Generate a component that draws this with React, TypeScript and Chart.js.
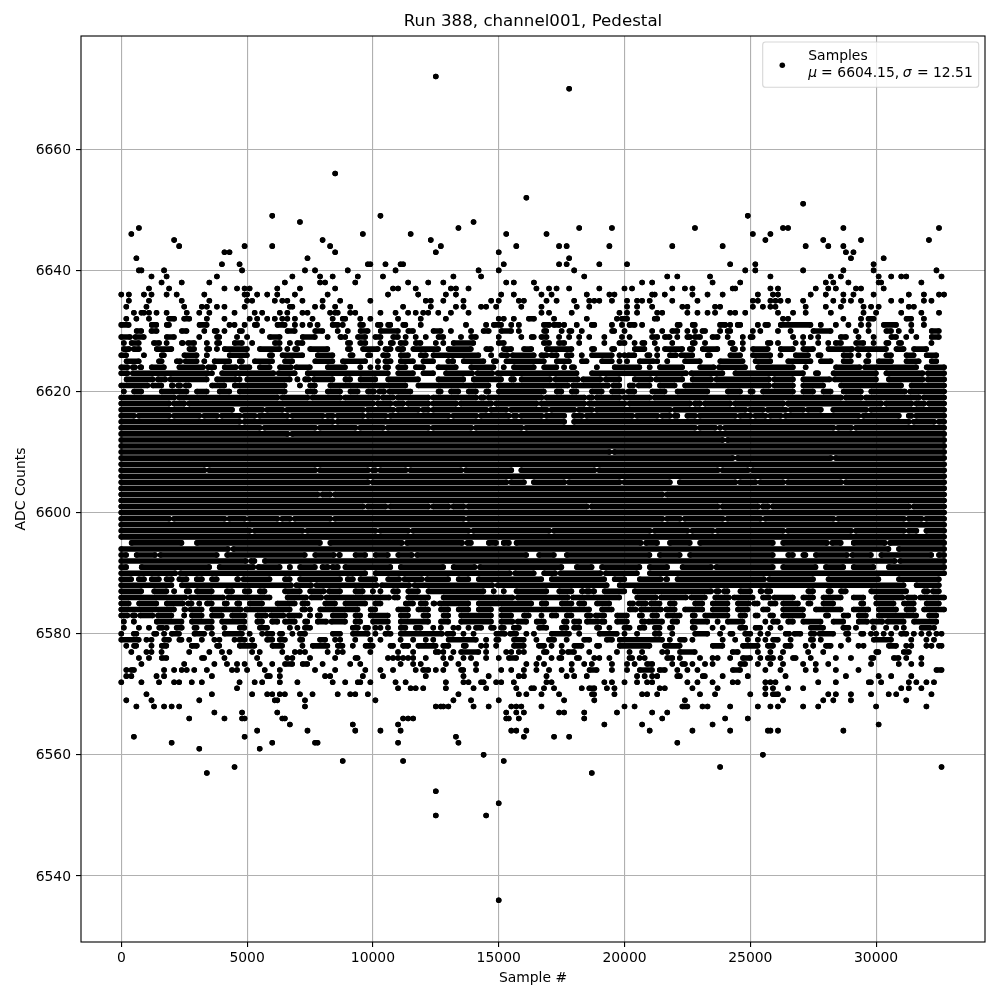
import React, { useEffect, useRef } from "react";
import { Chart, registerables } from "chart.js";

Chart.register(...registerables);

const chartTitle = "Run 388, channel001, Pedestal";
const xTitle = "Sample #";
const yTitle = "ADC Counts";
const seriesName = "Samples";
const statMean = "6604.15";
const statSigma = "12.51";

// x positions are stored in hundreds of samples, one list per ADC code.
const sampleUnit = 100;
const lastSample = 327;
// Fringe runs were read at their outer edges; a dot's centre sits about one unit inside,
// and less where two runs almost touch.
const edgeInset = 1.1;
const touchingInset = 0.6;

// In each list "n" is one isolated sample and "a-b" is a run of samples whose dots merge.
const rowsHigh: [number, string][] = [
  [6672, "125"],
  [6670, "178"],
  [6656, "85"],
  [6652, "161"],
  [6651, "271"],
  [6649, "60 103 249"],
  [6648, "71 140"],
  [6647, "7 134 182 195 228 263 265 287 325"],
  [6646, "4 96 115 153 169 251 258"],
  [6645, "21 80 123 256 279 294 321"],
  [6644, "23 49 60 83 127 157 174 177 194 219 239 272 281 287"],
  [6643, "41 43 85 125 150 288 291"],
  [6642, "6 74 178 290 303"],
  [6641, "40 47 98 99 105 111 112 152 174 177 190 201 242 252 299"],
  [6640, "7 8 17 48 73 77 90 109 142 150 180 248 252 271 287 299 324"],
  [6639, "12 18 38 68 79 84 94 104 132 143 184 217 221 234 258 282 286 301 306 310 312 326"],
  [6638, "16 24 35 65 79 81 93 114 122 128 153 156 164 207 211 235 246 280 283 289 301 302 318"],
  [6637, "11 19 41 46 49 51 62 71 85 108 110 117 131 133 138 165 170 173 178 190 200 203 219 224 227 243 244 258 261 276 281 284 292 294 303"],
  [6636, "0 3 9 12 18 22 33 49 50 54 58 62 69 82 106 118 129 133 151 156 167 171 185 194 196 211 212 216 227 233 239 253 259 261 274 280 287 291 299 313 319 325 327"],
  [6635, "3 11 24 35 50 52 61 64 66 72 80 87 99 121 123 128 136 147 150 158 160 169 173 180 186 188 190 195 201 205 207 210 219 229 251 253 258 260 262 265 271 283 287 290 294 306 310 319 322"],
  [6634, "2 10 25 32 34 38 41 49 67 68 77 80 85 91 112 123 133 136 143 145 149 159 167 181 186 201 205 211 223 225 236 238 251 255 258 260 272 280 286 295 298 301 313 315"],
  [6633, "5 8 9 11 14 18 26 31 35 45 53 56 63 66 72 74 83 85 86 91 93 103 109 114 117 120 122 126 131 138 167 170 179 198 201 205 213 215 225 229 233 236 242 244 248 261 267 272 282 295 300 310 318 325"],
  [6632, "2 6 11 19-21 25-27 34 41 51 54 58 61 64 66 69 76 84 88-89 95 99 110 119 129 150 152 156 162-164 172 185 197 199-201 212 213 263 265 287 294 297-299 311-315 319"],
  [6631, "0-4 11-15 17-20 30-35 43 45 49 52-55 61-66 69 72 75 78 84-86 88 95-96 102-103 105-108 111-114 119 137 145 147-152 155 158 168-170 172-174 176 181 187-188 195 199 202-204 207 220-223 226-229 238-240 242 245-246 253 256-257 261-275 278 284 289 294 297 302-309 314 319"],
  [6630, "5-9 12-14 23-27 33 36-39 41 46-49 56 65-70 76-81 86 90 94-99 102-111 113-117 123-128 131 139 144-146 150-156 158 167-170 175 177-180 183 194-197 200 211 215 219-221 225 228 231-232 238 241-242 251 254 261 266 274-283 292 297 303-307 309 314 321-326"],
  [6629, "0-4 5-10 17-22 31 37-40 46 50 58-64 71-78 82 86-88 89 93-98 101-103 107-111 113 117 121 125-129 135 138-142 150 159 162-165 167-169 174 178 182 186 192 199 202 211-213 215-219 221 225-226 228-230 235-237 241 247 249-252 267 271 274 277 286-288 293 299 305-309 312 316 321-326"],
  [6628, "1 3-8 13-15 18 23-25 26-30 34 37-40 44-49 52 60-64 67 70-72 89-92 95-97 103 106-109 111-113 116-120 125 128 131-141 150-152 168-170 174-176 182 192 198-200 204 206-209 212 219 226-229 232 241-244 247 257-258 261 268 271 277 281 284-286 291-296 299 303-306 308-311 322"],
  [6627, "1-3 5-7 13-21 26-30 33-36 38 40-51 54-64 66 68-71 74-83 89-92 95-103 105-107 110-112 115-127 129-140 144-148 151-156 159-164 168-180 186-189 194-197 203-209 213 215-224 226-227 230-238 242-245 247 250-258 261-268 270-276 280-291 292-305 307-312 314-321"],
  [6626, "0-3 9 15-18 24-31 34 42-51 58-61 63-73 77-85 90-93 97-100 103-107 110-115 119-121 123-143 147 150-154 155-165 167-169 171-173 176-180 183 186-196 198 200 201-205 208-211 213 217-221 222-228 232-235 241-247 250-259 262 267-274 276-279 286-291 293 297 303-307 311-316 319-325"],
  [6625, "1-8 15-16 21-24 25-31 33 36-44 46-49 52-61 64-69 76-85 87-98 102 105-107 110-117 119-125 130 131-133 135-145 147-150 152-169 172-179 182-186 190-196 198 201 205-212 213 217 223-231 237-248 251-259 264-275 277-283 286-291 295-298 300-307 311-318 321-325"],
  [6624, "0-3 4-6 7-9 11-18 22-33 34-38 40-46 47-52 54-60 62-68 69-76 81-90 95 99 102 105-106 109-114 116-121 125-134 138-149 152 155-165 167-174 176 178-181 189 195-207 210 213-224 229-236 237-249 252-268 272 283-294 295-317 319-327"],
  [6623, "0-3 4-35 36 39-61 62-70 73-107 109-117 119-125 128-140 141-148 149-182 186-225 226-240 243-272 275-278 282-301 303-319 320-327"],
  [6622, "1-13 14-18 19-35 37-46 47 49-68 70 72-75 76-85 88-92 94-102 105-119 125-137 139-152 155-156 158-171 172-182 183-191 192-199 203-211 212-224 226-235 236-258 259-268 270-282 283-301 304-319 320-327"],
  [6621, "0-11 12-17 19-21 22-24 25-28 35-42 44-66 71 74-78 82-114 117-147 149-178 179-194 195-199 201-204 205-211 213-221 223-258 259-268 270-280 285-311 313-327"],
  [6620, "1 4-9 15-27 29-35 38-44 46-66 73-78 81-88 90-95 97-101 102-105 106-116 125-128 130-135 137-142 144-147 149-169 172-176 178-182 186-192 194-200 201-205 210-217 220-234 240-247 249-252 254-268 270-276 278-283 286-295 297-312 313-327"],
];

const rowsCore: [number, string][] = [
  [6619, "0-21 23-62 64-74 76-87 89-102 104-108 110-122 124-141 143-144 146-167 169-184 186-187 189-198 200-210 212-286 288-294 296-317 319-327"],
  [6618, "0-19 21-25 27-100 102-107 109-112 114-122 124-133 135-147 149-165 167-184 186-200 202-226 228-230 232-242 244-263 265-302 304-314 316-319 321-327"],
  [6617, "0-44 48-56 58-64 66-96 98-108 110-118 120-122 124-145 147-153 155-169 171-180 182-187 189-218 220-248 250-255 257-264 266-271 273-278 283-296 298-327"],
  [6616, "0-5 7-19 21-31 33-38 40-47 49-53 55-66 68-80 82-84 86-96 98-105 107-130 132-141 143-154 156-157 159-167 169-176 180-183 185-203 205-213 215-218 220-221 225-228 230-244 246-250 252-256 258-262 264-293 295-309 313-314 316-327"],
  [6615, "0-47 49-84 86-176 180-313 315-323 325-327"],
  [6614, "0-55 57-77 79-93 95-104 106-122 124-139 141-159 161-228 230-236 238 240-283 285-290 292-327"],
  [6613, "0-66 68-327"],
  [6612, "0-239 241-327"],
  [6611, "0-327"],
  [6610, "0-194 196-327"],
  [6609, "0-243 245-282 284-327"],
  [6608, "0-327"],
  [6607, "0-33 35-77 79-98 100-101 103-113 115-135 137-155 159-188 190-237 239-249 251-327"],
  [6606, "0-327"],
  [6605, "0-98 100-153 155-160 164-176 178-198 200-218 222-244 246-252 254-263 265-286 288-327"],
  [6604, "0-327"],
  [6603, "0-78 80-83 85-215 217-327"],
  [6602, "0-327"],
  [6601, "0-96 98-105 107-122 124-130 132-136 138-185 187-237 239-253 255-257 259-313 315-327"],
  [6600, "0-327"],
  [6599, "0-19 21-41 43-49 51-62 64-67 69-83 85-136 138-215 217-222 224-239 241-254 256-283 285-311 313-318 320-327"],
  [6598, "0-327"],
  [6597, "0-51 53-72 74-101 103-114 116-138 140-170 172-210 212-225 227-235 237-263 265-290 292-311 313-316 320-327"],
  [6596, "0-327"],
];

const rowsLow: [number, string][] = [
  [6595, "3-25 29-80 82-112 113-136 137-140 145-150 152-154 156-207 208-214 217-227 229-260 262-281 282-287 290-304 305-327"],
  [6594, "0-43 44-306 308-327"],
  [6593, "0-3 5-14 15-39 41-74 76-85 86-88 92-98 100-107 109-116 117-162 165-173 176-211 213-223 225-260 264-268 270-273 275-289 290-299 301-323 325-327"],
  [6592, "0-50 51-54 56-308 309-327"],
  [6591, "0-3 7-36 38-53 54-64 67 70-78 80-82 84-86 88-108 110-129 131-141 142-176 180-188 190-207 209-218 222-235 236-260 262-277 279-288 290-300 304-327"],
  [6590, "0-22 23-98 100-155 156-165 167-173 174-191 192-206 209-327"],
  [6589, "0-5 7-9 11-16 18-20 22-27 30-32 35-39 45-47 48-60 64-68 70-88 90-92 94-102 105-111 112-120 121-131 133-139 141-168 170-193 195-201 205-215 216-218 220-256 257-276 280-302 308-326"],
  [6588, "0-21 23-68 69-76 77-102 103-115 116-148 149-194 197-312 315-326"],
  [6587, "0-9 12-19 21 26-27 29-37 42-44 48-52 54-58 64-72 74-81 82-88 92-97 100 103 107-111 113-119 121-145 148 152 156-170 173-180 182-184 185-186 187-189 191-201 203-235 236-238 239-242 245-251 253-255 256-259 272-276 280-283 285-289 297-313 318-321 322-326"],
  [6586, "0-26 27-41 42-60 65-74 75-80 81-107 108-111 113-123 127-156 157-178 179-199 204-213 214-225 226-233 235-242 243-252 254-258 259-268 270-276 278-287 290-296 299-311 312-316 317-327"],
  [6585, "0-4 6-15 17-25 26-29 31 33-37 40-43 45-48 50-57 61-70 72-73 74 80-86 88-98 101-103 112-117 119-121 123-125 126-139 141-164 166-170 174-180 182-184 188-195 201-204 205-209 210-215 217-221 227-232 234-242 244-250 251-254 258-260 262-270 272-275 278-284 293-296 299-308 310-316 319-326"],
  [6584, "0-22 24-26 27-33 35-48 49-68 72-73 75 78-95 98-102 109-115 117-123 126-131 133-139 141-148 150-187 190-196 201-205 206-215 216-221 223-232 234-242 244-250 254-258 262-272 275-287 290-298 300-309 311-316 318-327"],
  [6583, "0-3 4-6 7-13 14-21 25 27-33 35-41 43-50 53-58 59-65 66-72 75 77-80 83-90 92-96 98-107 110-115 119-123 127-131 134-148 150-156 159-163 167 170-174 176-180 184-187 188-193 196-202 205-208 210-214 216-223 226-229 231-242 245-249 251-254 258-259 262-272 279-282 286-290 292-297 300-317 320-325"],
  [6582, "1 5 13-25 27-37 39-50 53-57 60-62 64-70 72-75 77-82 83-90 92-96 99-107 110-123 126-131 134-148 150-156 157-162 164-169 176-177 180-182 184-190 191-192 196-202 207-208 209-216 218-222 226-234 237 240-248 256 258-262 264-268 270-279 282-288 292-297 298-303 304-312 314-325"],
  [6581, "1 7 11 14-17 18 22-24 28-31 33-37 41 46-50 54-59 67 70 73-75 92-94 97-98 101 103 106 110-114 116-120 124 127 132 134 138 141-143 147-148 151-152 156-158 165-170 174-178 180-182 188-191 194 200-202 205-209 211-215 217-220 226-229 235 239 246-248 251-255 258 262 273-280 287-289 292 299 304 308 311 317-322 323"],
  [6580, "0 5 6 12-15 17 19-24 28-34 36 40-49 51 56 58-60 62-65 68 71-73 83-88 91-99 101 105-107 110-128 129-133 136 140 148-153 154-158 161 164 170-179 182 189-198 200 205 211-215 219 227-234 238 241-244 248-250 254 257 263-266 267-271 273-276 277-284 287-290 293-296 298 300 303 306 310-312 315 318 321 324 326"],
  [6579, "0-8 10 12 16-20 22-25 27 32 37 39 45 47-49 52 58-60 63-65 70-73 79-81 85 87 93 99 103 111 116 121 124 129-142 145 148-151 155-161 165 170-172 177 184-186 193-195 197-216 218 221-225 227 239 244 249 253 256 258-262 266 273-276 278 289 298-307 314 320 323"],
  [6578, "2 4-7 12 15-19 28-30 37-40 46-54 59-65 72 75-83 85-89 92 96-101 107-108 112-114 117-126 128-130 135-138 143 145 149 155-161 166-168 171 175 179-184 188-191 197-211 215-223 234-240 246-254 257-259 264-266 272 275 279-283 286 293 295 304-309 312 314 320 322 325 326"],
  [6577, "4 10 12 16 27 35 40 43 52 55 64 69 71 73 82 86 88 99 110 116 125 126 128 132 134-143 145 153 155 158 160 168-169 174-176 177-181 186 197 202 207 215 217 221-229 243-245 253 258 263 273 279 299-302 311-313"],
  [6576, "7 11 15-19 31-34 41 54 66 68 75 85 92-95 106 108 110 112 114 116 121 128 131 136 139 145 150 153-158 166 171 173-176 180-183 188 190 194 202-203 206 208 217-219 222 230 235 237 242 246-251 254 257-259 262 267-268 274 284 290 297-300 306-310 312 318"],
  [6575, "8 25 37 42 46 49 55 60 64-69 71-75 80 91 95 111 116 119 129 134 141 161 165 168 179 184 187 195 201 204 209-211 219 223-224 227 232 235 245-249 253 258 263 271 276 281 298 309 314 318"],
  [6574, "2 4 5 17 21 24 26 29 34 44 46 50 57 63 77 85 97 103 108 117 120-122 125 128 134-137 141 151 155 160 165 170 175 179 185-190 195 201 205-212 214-216 221 225 229 242-247 256 262 272 276 284 293 324-326"],
  [6573, "2 4 14 17 36 58 59 63 81 83 96 104 121 136 146 158 160 169 177 180 185 205 208 211 213 221 222 230-233 239 249 264 288 301 306 314"],
  [6572, "0 8 15 21 23 28 32 47 53 56 63 70 84 89 94 95 99 109 113 129 136 138 143 144 149 151 156 169 171 192 195 200 205 209 211 225 229 235 243 245 256 258 260 277 284 296-299 302 313 316 320 323"],
  [6571, "46 110 115 117 120 129 140 145 157 163 164 168 172 183 186-188 193 196 214 216 227 237 256 259 265 271 310 313 318"],
  [6570, "10 36 52 58 60 63 65 71 76 86 91 93 98 134 158 161 167 174 186-189 196 207 209 213 230 236 250 256 259-261 281 284 290 298 305 308 322"],
  [6569, "2 12 31 61 62 73 101 132 139 150 176 188 224 263 279 283 290 312"],
  [6568, "6 13 17 20 23 73 125 127 128 130 140 146 155 157 159 167 200 204 223-225 231 233 242 253 258 261 271 277 300 320"],
  [6567, "37 48 62 153 157 160 174 176 184 197 211 217"],
  [6566, "27 41 48 49 64 65 112 114 116 153 154 158 184 215 240 249"],
  [6565, "67 92 110 192 207 235 301"],
  [6564, "54 74 93 103 111 155 157 161 210 227 242 257 258 261 287"],
  [6563, "5 49 133 160 172 178"],
  [6562, "20 60 77 78 110 134 221"],
  [6561, "31 55"],
  [6560, "144 255"],
  [6559, "88 112 152"],
  [6558, "45 238 326"],
  [6557, "34 187"],
  [6554, "125"],
  [6552, "150"],
  [6550, "125 145"],
  [6536, "150"],
];

const xTickValues = [0, 5000, 10000, 15000, 20000, 25000, 30000];
const yTickValues = [6540, 6560, 6580, 6600, 6620, 6640, 6660];
const xRange = [-1602, 34328];
const yRange = [6529.1, 6678.7];

const FONT = '"DejaVu Sans"';

function appendRows(out: { x: number; y: number }[], rows: [number, string][], inset: number) {
  for (const [adc, marks] of rows) {
    const parts = marks.split(" ").map((mark) => mark.split("-").map(Number));
    parts.forEach(([a, b], i) => {
      if (b === undefined) {
        out.push({ x: a * sampleUnit, y: adc });
      } else {
        const prev = parts[i - 1];
        const next = parts[i + 1];
        const prevEnd = prev ? prev[prev.length - 1] : -99;
        const nextStart = next ? next[0] : 999;
        const leftInset = a - prevEnd <= 1 ? Math.min(inset, touchingInset) : inset;
        const rightInset = nextStart - b <= 1 ? Math.min(inset, touchingInset) : inset;
        const wide = b - a > leftInset + rightInset;
        const start = wide && a > 0 ? a + leftInset : a;
        const end = wide && b < lastSample ? b - rightInset : b;
        out.push({ x: start * sampleUnit, y: adc }, { x: end * sampleUnit, y: adc });
      }
      out.push({ x: NaN, y: NaN });
    });
  }
}

function buildPoints() {
  const out: { x: number; y: number }[] = [];
  appendRows(out, rowsHigh, edgeInset);
  appendRows(out, rowsCore, 0);
  appendRows(out, rowsLow, edgeInset);
  return out;
}

const framePlugin = {
  id: "frame",
  afterDatasetsDraw(chart: any) {
    const { ctx, chartArea: a } = chart;
    ctx.save();
    ctx.strokeStyle = "#000";
    ctx.lineWidth = 1.11;
    ctx.strokeRect(a.left, a.top, a.right - a.left, a.bottom - a.top);

    const x0 = 762.7, y0 = 42, w = 216, h = 45.3, r = 2.8;
    ctx.beginPath();
    ctx.roundRect(x0, y0, w, h, r);
    ctx.fillStyle = "rgba(255,255,255,0.8)";
    ctx.fill();
    ctx.strokeStyle = "rgba(204,204,204,0.8)";
    ctx.lineWidth = 1.11;
    ctx.stroke();

    ctx.fillStyle = "#000";
    ctx.beginPath();
    ctx.arc(782.3, 65.3, 2.78, 0, Math.PI * 2);
    ctx.fill();

    ctx.textBaseline = "alphabetic";
    ctx.textAlign = "left";
    const plain = `13.9px ${FONT}`;
    const ital = `italic 13.9px ${FONT}`;
    ctx.font = plain;
    ctx.fillText(seriesName, 808.3, 59.5);
    const base = 76.5;
    ctx.font = ital;
    ctx.fillText("\u03bc", 808.3, base);
    ctx.font = plain;
    ctx.fillText("=", 821, base);
    ctx.fillText(`${statMean},`, 837.3, base);
    ctx.font = ital;
    ctx.fillText("\u03c3", 902.7, base);
    ctx.font = plain;
    ctx.fillText("=", 917, base);
    ctx.fillText(statSigma, 933, base);
    ctx.restore();
  },
};

export default function App() {
  const ref = useRef<HTMLCanvasElement | null>(null);
  useEffect(() => {
    const chart = new Chart(ref.current as HTMLCanvasElement, {
      type: "scatter",
      data: {
        datasets: [
          {
            label: seriesName,
            data: buildPoints(),
            showLine: true,
            spanGaps: false,
            borderColor: "#000",
            borderWidth: 5.56,
            borderCapStyle: "round",
            tension: 0,
            pointRadius: 2.78,
            pointBorderWidth: 0,
            pointBackgroundColor: "#000",
            clip: false,
          },
        ],
      },
      options: {
        responsive: false,
        animation: false,
        events: [],
        layout: { padding: { left: 0, right: 15, top: 0, bottom: 0 } },
        plugins: {
          legend: { display: false },
          tooltip: { enabled: false },
          title: {
            display: true,
            text: chartTitle,
            color: "#000",
            fullSize: false,
            font: { family: FONT, size: 16.67, weight: "normal", lineHeight: 1.2 },
            padding: { top: 12, bottom: 4 },
          },
        },
        scales: {
          x: {
            type: "linear",
            min: xRange[0],
            max: xRange[1],
            afterFit(s: any) { s.height = 58; },
            afterBuildTicks(s: any) { s.ticks = xTickValues.map((value) => ({ value })); },
            border: { display: false },
            grid: { color: "#b0b0b0", lineWidth: 1.11, tickColor: "#000", tickLength: 5, tickWidth: 1.11 },
            ticks: {
              autoSkip: false,
              maxRotation: 0,
              color: "#000",
              padding: 3,
              font: { family: FONT, size: 13.9 },
              callback: (v: any) => String(v),
            },
            title: { display: true, text: xTitle, color: "#000", font: { family: FONT, size: 13.9 }, padding: { top: 3, bottom: 13 } },
          },
          y: {
            type: "linear",
            min: yRange[0],
            max: yRange[1],
            afterFit(s: any) { s.width = 81; },
            afterBuildTicks(s: any) { s.ticks = yTickValues.map((value) => ({ value })); },
            border: { display: false },
            grid: { color: "#b0b0b0", lineWidth: 1.11, tickColor: "#000", tickLength: 5, tickWidth: 1.11 },
            ticks: {
              autoSkip: false,
              color: "#000",
              padding: 5,
              labelOffset: 1,
              font: { family: FONT, size: 13.9 },
              callback: (v: any) => String(v),
            },
            title: { display: true, text: yTitle, color: "#000", font: { family: FONT, size: 13.9 }, padding: { top: 13, bottom: 3 } },
          },
        },
      },
      plugins: [framePlugin],
    } as any);
    return () => chart.destroy();
  }, []);
  return (
    <div style={{ position: "absolute", left: 0, top: 0, width: 1000, height: 1000, background: "#fff" }}>
      <canvas ref={ref} width={1000} height={1000} style={{ display: "block" }} />
    </div>
  );
}
